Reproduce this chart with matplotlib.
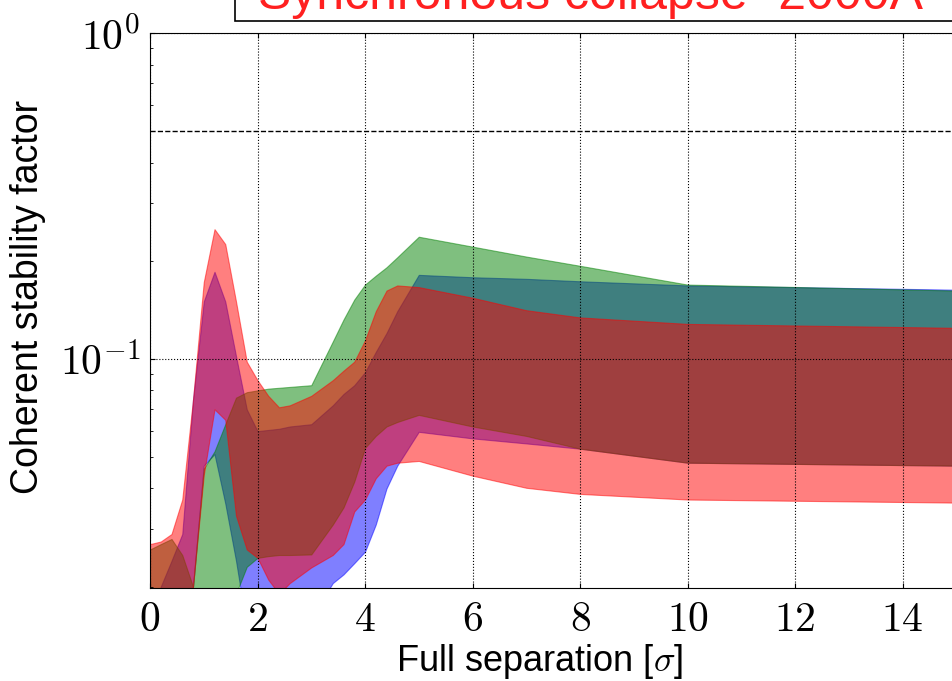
import numpy as np
import matplotlib
matplotlib.use("Agg")
import matplotlib.pyplot as plt
from matplotlib.patches import Rectangle

# separation in sigma
sep = [0, 0.2, 0.4, 0.6, 0.8, 1.0, 1.2, 1.4, 1.6, 1.8, 2.0, 2.2, 2.4, 2.6,
       3.0, 3.4, 3.6, 3.8, 4.0, 4.2, 4.4, 4.6, 5.0, 6, 7, 8, 10, 15]

# blue band
blue_hi = [0.015, 0.020, 0.024, 0.029, 0.075, 0.150, 0.185, 0.150, 0.102, 0.070,
           0.060, 0.0605, 0.061, 0.062, 0.063, 0.072, 0.078, 0.083, 0.091, 0.105,
           0.120, 0.140, 0.181, 0.178, 0.176, 0.173, 0.168, 0.163]
blue_lo = [0.015, 0.015, 0.015, 0.015, 0.020, 0.047, 0.051, 0.036, 0.024, 0.015,
           0.015, 0.015, 0.015, 0.015, 0.016, 0.0205, 0.0218, 0.0236, 0.0256, 0.031,
           0.040, 0.047, 0.0597, 0.057, 0.055, 0.053, 0.048, 0.047]

# green band
green_hi = [0.026, 0.027, 0.028, 0.025, 0.020, 0.046, 0.052, 0.063, 0.076, 0.079,
            0.080, 0.081, 0.0815, 0.082, 0.083, 0.113, 0.132, 0.152, 0.169, 0.180,
            0.191, 0.205, 0.237, 0.221, 0.206, 0.193, 0.169, 0.162]
green_lo = [0.015, 0.015, 0.015, 0.015, 0.015, 0.015, 0.015, 0.015, 0.019, 0.023,
            0.0245, 0.0248, 0.025, 0.025, 0.0251, 0.031, 0.035, 0.042, 0.0533, 0.058,
            0.062, 0.064, 0.0673, 0.062, 0.058, 0.053, 0.048, 0.047]

# red band
red_hi = [0.027, 0.0275, 0.029, 0.037, 0.075, 0.172, 0.250, 0.225, 0.150, 0.098,
          0.086, 0.077, 0.071, 0.072, 0.077, 0.086, 0.092, 0.098, 0.114, 0.140,
          0.162, 0.168, 0.166, 0.154, 0.141, 0.134, 0.128, 0.1245]
red_lo = [0.015, 0.015, 0.015, 0.015, 0.020, 0.044, 0.070, 0.065, 0.033, 0.026,
          0.0245, 0.021, 0.019, 0.0205, 0.0229, 0.025, 0.027, 0.034, 0.037, 0.043,
          0.047, 0.048, 0.0486, 0.0438, 0.0402, 0.0385, 0.037, 0.0362]

xticks = [0, 2, 4, 6, 8, 10, 12, 14]
yticks = [0.1, 1]
ylabels = ['$10^{-1}$', '$10^{0}$']

plt.rcParams['mathtext.fontset'] = 'cm'
fig = plt.figure(figsize=(9.52, 6.81), dpi=100)
ax = fig.add_axes([150 / 952, (681 - 588) / 681, 860 / 952, (588 - 33) / 681])

ax.fill_between(sep, blue_lo, blue_hi, color='b', alpha=0.5, lw=0.8)
ax.fill_between(sep, green_lo, green_hi, color='g', alpha=0.5, lw=0.8)
ax.fill_between(sep, red_lo, red_hi, color='r', alpha=0.5, lw=0.8)
ax.axhline(0.5, color='k', ls='--', lw=1)

ax.set_yscale('log')
ax.set_xlim(0, 16)
ax.set_ylim(0.0198, 1)
ax.set_xticks(xticks)
ax.set_xticklabels(['$%d$' % t for t in xticks])
ax.set_yticks(yticks)
ax.set_yticklabels(ylabels)
ax.grid(True, which='major', color='k', ls=':', lw=0.8)
ax.tick_params(labelsize=30, pad=7)
ax.tick_params(which='both', direction='in', top=True, right=True)
ax.set_xlabel(r'Full separation [$\sigma$]', fontsize=26, family='Liberation Sans')
ax.xaxis.set_label_coords((540 - 150) / 860, -0.098)
ax.set_ylabel('Coherent stability factor', fontsize=27, family='Liberation Sans')
ax.yaxis.set_label_coords(-0.121, 0.524)

# slide title box, mostly cut off at the top
fig.add_artist(Rectangle((235 / 952, 1 - 21 / 681), 0.8, 0.1, transform=fig.transFigure,
                         fc='white', ec='k', lw=1.2))
fig.text(258 / 952, 1.0 - 9 / 681, 'Synchronous collapse -2000A', color='#ff2020',
         fontsize=36, family='Liberation Sans', va='baseline')

fig.savefig('out.png', dpi=100)
